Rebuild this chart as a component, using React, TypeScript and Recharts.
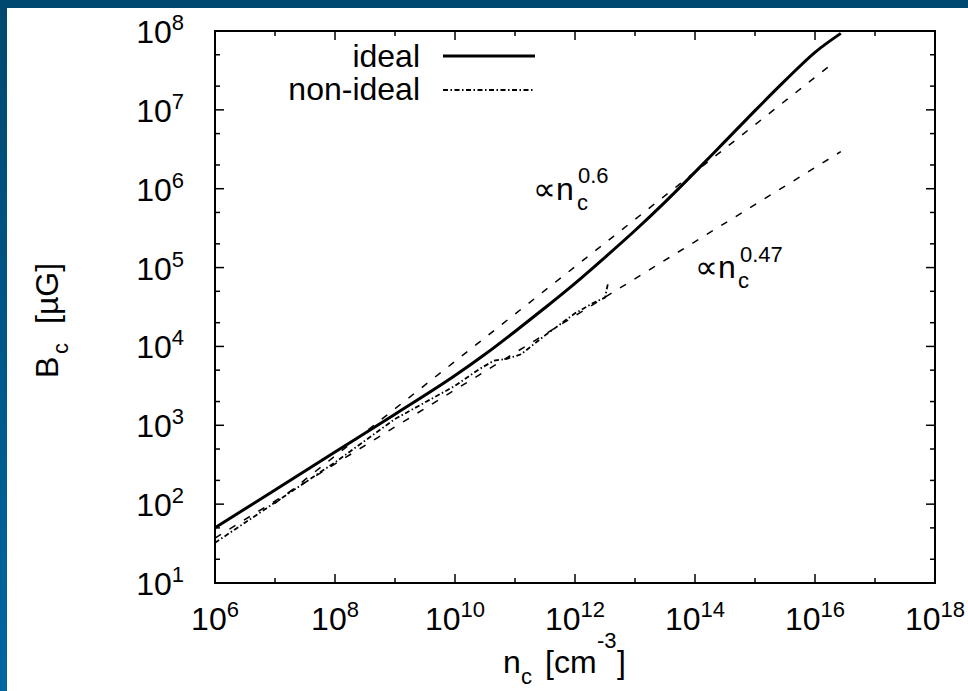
import { LineChart, Line, XAxis, YAxis, ReferenceArea } from "recharts";

// values as log10 exponents
const idealLogN = [6, 7, 8, 9, 10, 10.5, 11, 11.5, 12, 12.5, 13, 13.5, 14, 14.5, 15, 15.5, 16, 16.43];
const idealLogB = [1.7, 2.18, 2.66, 3.14, 3.63, 3.9, 4.19, 4.49, 4.8, 5.13, 5.47, 5.83, 6.21, 6.6, 6.99, 7.37, 7.73, 7.97];

const nonIdealLogN = [6, 7, 8, 9, 10, 10.4, 10.65, 10.85, 11.1, 11.5, 12, 12.3, 12.5, 12.55];
const nonIdealLogB = [1.51, 2.02, 2.53, 3.08, 3.5, 3.71, 3.82, 3.84, 3.9, 4.14, 4.42, 4.55, 4.62, 4.8];

// power-law guide lines (end points)
const fit06LogN = [7.0, 16.33];
const fit06LogB = [2.01, 7.61];
const fit047LogN = [6.0, 16.43];
const fit047LogB = [1.57, 6.47];

const xTickExp = [6, 7, 8, 9, 10, 11, 12, 13, 14, 15, 16, 17, 18];
const xLabelExp = [6, 8, 10, 12, 14, 16, 18];
const yTickExp = [1, 2, 3, 4, 5, 6, 7, 8];
const yMinor = [2, 5];

const seriesNames = ["ideal", "non-ideal"];

const toPoints = (ln: number[], lb: number[]) =>
  ln.map((v, i) => ({ n: Math.pow(10, v), b: Math.pow(10, lb[i]) }));

const ideal = toPoints(idealLogN, idealLogB);
const nonIdeal = toPoints(nonIdealLogN, nonIdealLogB);
const fit06 = toPoints(fit06LogN, fit06LogB);
const fit047 = toPoints(fit047LogN, fit047LogB);

const xTicks = xTickExp.map((e) => Math.pow(10, e));
const yTicks = yTickExp.flatMap((e) =>
  e < 8 ? [Math.pow(10, e), ...yMinor.map((m) => m * Math.pow(10, e))] : [Math.pow(10, e)]
);

const L = 215, R = 935, T = 31, B = 583;
const FONT = "'Liberation Sans', Arial, Helvetica, sans-serif";

function XTick(props: any) {
  const { x, payload } = props;
  const e = Math.round(Math.log10(payload.value));
  const major = xLabelExp.includes(e);
  const len = major ? 9 : 5;
  return (
    <g>
      <line x1={x} x2={x} y1={B} y2={B - len} stroke="#000" strokeWidth={1.5} />
      <line x1={x} x2={x} y1={T} y2={T + len} stroke="#000" strokeWidth={1.5} />
      {major && (
        <text x={x} y={630} textAnchor="middle" fontSize={32} fontFamily={FONT} fill="#000">
          10<tspan dy={-13} fontSize={22}>{e}</tspan>
        </text>
      )}
    </g>
  );
}

function YTick(props: any) {
  const { y, payload } = props;
  const le = Math.log10(payload.value);
  const e = Math.round(le);
  const major = Math.abs(le - e) < 1e-6;
  const len = major ? 9 : 5;
  return (
    <g>
      <line x1={L} x2={L + len} y1={y} y2={y} stroke="#000" strokeWidth={1.5} />
      <line x1={R} x2={R - len} y1={y} y2={y} stroke="#000" strokeWidth={1.5} />
      {major && (
        <text x={184} y={y + 12} textAnchor="end" fontSize={32} fontFamily={FONT} fill="#000">
          10<tspan dy={-13} fontSize={22}>{e}</tspan>
        </text>
      )}
    </g>
  );
}

export default function App() {
  return (
    <div
      style={{
        position: "fixed",
        left: 0,
        top: 0,
        width: 968,
        height: 691,
        background: "linear-gradient(to bottom, #00486e, #0066a2)",
        overflow: "hidden",
      }}
    >
      <div style={{ position: "absolute", left: 7, top: 8, right: 0, bottom: 0, background: "#fff" }} />
      <div style={{ position: "absolute", left: 0, top: 0 }}>
        <LineChart width={968} height={691} margin={{ top: 31, right: 33, bottom: 0, left: 0 }}>
          <XAxis
            dataKey="n"
            type="number"
            scale="log"
            domain={[1e6, 1e18]}
            allowDataOverflow
            ticks={xTicks}
            interval={0}
            height={108}
            axisLine={false}
            tickLine={false}
            tick={XTick}
          />
          <YAxis
            dataKey="b"
            type="number"
            scale="log"
            domain={[10, 1e8]}
            allowDataOverflow
            ticks={yTicks}
            interval={0}
            width={215}
            axisLine={false}
            tickLine={false}
            tick={YTick}
          />
          <ReferenceArea x1={1e6} x2={1e18} y1={10} y2={1e8} fill="none" stroke="#000" strokeWidth={2} />
          <Line data={fit06} dataKey="b" type="linear" stroke="#000" strokeWidth={1.5} strokeDasharray="7 10" dot={false} isAnimationActive={false} />
          <Line data={fit047} dataKey="b" type="linear" stroke="#000" strokeWidth={1.5} strokeDasharray="7 10" dot={false} isAnimationActive={false} />
          <Line data={nonIdeal} dataKey="b" name={seriesNames[1]} type="linear" stroke="#000" strokeWidth={1.8} strokeDasharray="5 2.5 1.5 2.5" dot={false} isAnimationActive={false} />
          <Line data={ideal} dataKey="b" name={seriesNames[0]} type="monotone" stroke="#000" strokeWidth={3} dot={false} isAnimationActive={false} />
        </LineChart>
      </div>
      <svg
        width={968}
        height={691}
        style={{ position: "absolute", left: 0, top: 0, pointerEvents: "none" }}
        fontFamily={FONT}
        fontSize={32}
        fill="#000"
      >
        {/* legend */}
        <text x={420} y={67} textAnchor="end">{seriesNames[0]}</text>
        <line x1={443} x2={535} y1={56} y2={56} stroke="#000" strokeWidth={3} />
        <text x={420} y={100} textAnchor="end">{seriesNames[1]}</text>
        <line x1={443} x2={533} y1={90} y2={90} stroke="#000" strokeWidth={1.8} strokeDasharray="5 2.5 1.5 2.5" />

        {/* power-law notes */}
        <text x={533} y={200}>∝n</text>
        <text x={577} y={210} fontSize={22}>c</text>
        <text x={578} y={183} fontSize={22}>0.6</text>
        <text x={695} y={278}>∝n</text>
        <text x={738} y={288} fontSize={22}>c</text>
        <text x={740} y={262} fontSize={22}>0.47</text>

        {/* axis titles */}
        <text x={503} y={673}>n</text>
        <text x={521} y={684} fontSize={22}>c</text>
        <text x={545} y={673}>[cm</text>
        <text x={597} y={648} fontSize={22}>-3</text>
        <text x={617} y={673}>]</text>

        <g transform="translate(58,378) rotate(-90)">
          <text x={0} y={0}>B</text>
          <text x={24} y={10} fontSize={22}>c</text>
          <text x={54} y={0}>[µG]</text>
        </g>
      </svg>
    </div>
  );
}
